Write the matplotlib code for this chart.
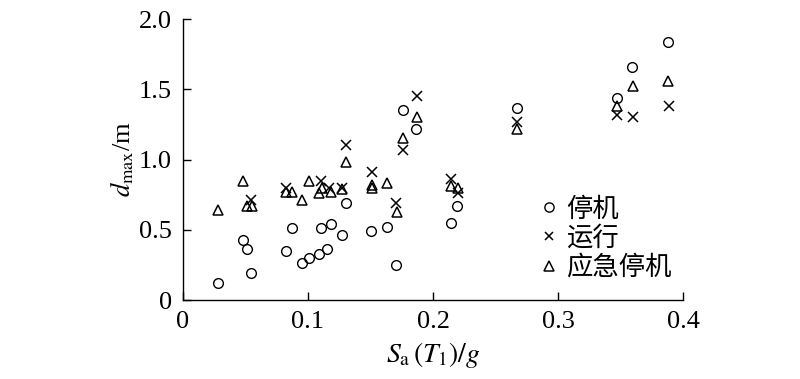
import numpy as np
import matplotlib
matplotlib.use('Agg')
import matplotlib.pyplot as plt

plt.rcParams['font.family'] = ['Liberation Serif']
plt.rcParams['mathtext.fontset'] = 'stix'

# 停机 (stopped)
stop_x = [0.028, 0.048, 0.051, 0.054, 0.082, 0.087, 0.095, 0.101, 0.109, 0.110,
          0.115, 0.118, 0.127, 0.130, 0.150, 0.163, 0.170, 0.176, 0.186, 0.214,
          0.219, 0.267, 0.347, 0.359, 0.388]
stop_y = [0.12, 0.43, 0.36, 0.19, 0.35, 0.51, 0.26, 0.30, 0.33, 0.51,
          0.36, 0.54, 0.46, 0.69, 0.49, 0.52, 0.25, 1.35, 1.22, 0.55,
          0.67, 1.37, 1.44, 1.66, 1.84]

# 运行 (running)
run_x = [0.054, 0.082, 0.110, 0.117, 0.127, 0.130, 0.151, 0.170, 0.176, 0.187,
         0.214, 0.220, 0.267, 0.347, 0.360, 0.389]
run_y = [0.71, 0.80, 0.85, 0.80, 0.80, 1.10, 0.91, 0.69, 1.07, 1.45,
         0.86, 0.76, 1.27, 1.32, 1.30, 1.38]

# 应急停机 (emergency stop)
emg_x = [0.028, 0.048, 0.051, 0.055, 0.082, 0.087, 0.095, 0.101, 0.109, 0.111,
         0.118, 0.127, 0.130, 0.151, 0.151, 0.163, 0.171, 0.176, 0.187, 0.214,
         0.220, 0.267, 0.347, 0.360, 0.388]
emg_y = [0.64, 0.85, 0.67, 0.67, 0.77, 0.77, 0.71, 0.85, 0.76, 0.80,
         0.77, 0.79, 0.98, 0.82, 0.80, 0.83, 0.63, 1.15, 1.30, 0.81,
         0.80, 1.22, 1.38, 1.52, 1.56]

labels = ['停机', '运行', '应急停机']
xticks = [0, 0.1, 0.2, 0.3, 0.4]
xticklabels = ['0', '0.1', '0.2', '0.3', '0.4']
yticks = [0, 0.5, 1.0, 1.5, 2.0]
yticklabels = ['0', '0.5', '1.0', '1.5', '2.0']

fig = plt.figure(figsize=(8, 3.79), dpi=100)
ax = fig.add_axes([0.22875, 0.2084, 0.625, 0.7414])

ax.plot(stop_x, stop_y, 'o', ms=7, mfc='none', mec='black', mew=1.0, label=labels[0])
ax.plot(run_x, run_y, 'x', ms=6.5, color='black', mew=1.1, label=labels[1])
ax.plot(emg_x, emg_y, '^', ms=7.5, mfc='none', mec='black', mew=1.1, label=labels[2])

ax.set_xlim(0, 0.4)
ax.set_ylim(0, 2.0)
ax.set_xticks(xticks)
ax.set_xticklabels(xticklabels)
ax.set_yticks(yticks)
ax.set_yticklabels(yticklabels)
ax.tick_params(direction='in', length=6, width=1.0, labelsize=19)
ax.tick_params(axis='x', pad=8)
ax.tick_params(axis='y', pad=8)
ax.spines['top'].set_visible(False)
ax.spines['right'].set_visible(False)
for s in ['left', 'bottom']:
    ax.spines[s].set_linewidth(1.0)

ax.set_xlabel(r'$S_\mathrm{a}\,(T_1)/g$', fontsize=20, labelpad=5)
ax.set_ylabel(r'$d_\mathrm{max}$/m', fontsize=19, labelpad=2)

ax.legend(loc='center left', bbox_to_anchor=(0.711, 0.22), frameon=False,
          prop={'family': ['Noto Sans CJK SC', 'DejaVu Sans'], 'size': 19},
          handlelength=0.8, handletextpad=0.25, labelspacing=0.08,
          borderpad=0, borderaxespad=0, markerscale=0.95)

fig.savefig('out.png', dpi=100)
